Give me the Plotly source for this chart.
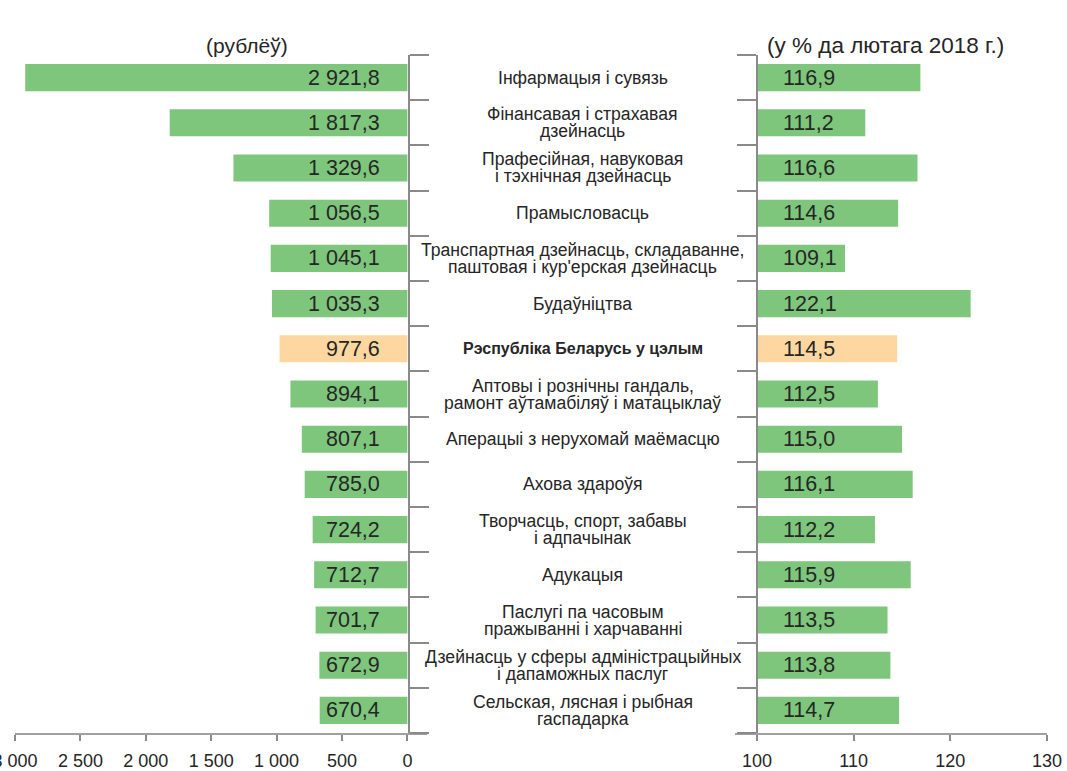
import plotly.graph_objects as go

categories = [
    "Інфармацыя і сувязь",
    "Фінансавая і страхавая<br>дзейнасць",
    "Прафесійная, навуковая<br>і тэхнічная дзейнасць",
    "Прамысловасць",
    "Транспартная дзейнасць, складаванне,<br>паштовая і кур'ерская дзейнасць",
    "Будаўніцтва",
    "Рэспубліка Беларусь у цэлым",
    "Аптовы і рознічны гандаль,<br>рамонт аўтамабіляў і матацыклаў",
    "Аперацыі з нерухомай маёмасцю",
    "Ахова здароўя",
    "Творчасць, спорт, забавы<br>і адпачынак",
    "Адукацыя",
    "Паслугі па часовым<br>пражыванні і харчаванні",
    "Дзейнасць у сферы адміністрацыйных<br>і дапаможных паслуг",
    "Сельская, лясная і рыбная<br>гаспадарка",
]
wage_rub = [2921.8, 1817.3, 1329.6, 1056.5, 1045.1, 1035.3, 977.6, 894.1,
            807.1, 785.0, 724.2, 712.7, 701.7, 672.9, 670.4]
wage_pct = [116.9, 111.2, 116.6, 114.6, 109.1, 122.1, 114.5, 112.5,
            115.0, 116.1, 112.2, 115.9, 113.5, 113.8, 114.7]
highlight = "Рэспубліка Беларусь у цэлым"
left_ticks = [0, 500, 1000, 1500, 2000, 2500, 3000]
left_ticktext = ["0", "500", "1 000", "1 500", "2 000", "2 500", "3 000"]
right_ticks = [100, 110, 120, 130]
left_title = "(рублёў)"
right_title = "(у % да лютага 2018 г.)"

W, H = 1067, 771
GREEN = "#7dc67c"
ORANGE = "#fdd79f"
TXT = "#262626"
AX = "#8a8a8a"
FONT = "Liberation Sans, Arial, sans-serif"


def fx(px):
    return px / W


def fy(py):
    return 1 - py / H


def fmt(v):
    s = f"{v:,.1f}"
    return s.replace(",", " ").replace(".", ",")


ids = list(range(len(categories)))
colors = [ORANGE if c == highlight else GREEN for c in categories]

fig = go.Figure()
fig.add_trace(go.Bar(
    y=ids, x=wage_rub, orientation="h", marker=dict(color=colors, line=dict(width=0)),
    width=0.6, xaxis="x", yaxis="y", hoverinfo="x",
))
fig.add_trace(go.Bar(
    y=ids, x=[v - 100 for v in wage_pct], base=[100] * len(wage_pct), orientation="h",
    marker=dict(color=colors, line=dict(width=0)),
    width=0.6, xaxis="x2", yaxis="y2", hoverinfo="text",
    hovertext=[fmt(v) for v in wage_pct],
))

y_dom = [fy(733), fy(55)]
yax_common = dict(
    domain=y_dom, range=[len(categories) - 0.5, -0.5], showticklabels=False,
    showgrid=False, zeroline=False, showline=True, linecolor=AX, linewidth=2,
    ticks="outside", ticklen=19, tickcolor=AX, tickwidth=1.5, automargin=False,
    tickvals=[i - 0.5 for i in range(len(categories) + 1)], anchor="free",
)
xax_common = dict(
    showgrid=False, zeroline=False, showline=True, linecolor="#a0a0a0", linewidth=2,
    ticks="outside", ticklen=6, tickcolor=AX, tickwidth=1.5, automargin=False,
    ticklabeloverflow="allow", ticklabelstandoff=4,
    tickfont=dict(size=18, color=TXT, family=FONT),
)

annotations = []
for i, (c, v, p) in enumerate(zip(categories, wage_rub, wage_pct)):
    lines = c.split("<br>")
    n = len(lines)
    for k, line in enumerate(lines):
        shift = (k - (n - 1) / 2) * 17
        bold = c == highlight
        txt = f"<b>{line}</b>" if bold else line
        annotations.append(dict(
            x=fx(583), xref="paper", y=i, yref="y", yshift=-shift,
            text=txt, showarrow=False, xanchor="center", yanchor="middle",
            font=dict(size=16 if bold else 17.6, color=TXT, family=FONT),
        ))
    annotations.append(dict(
        x=0, xref="x", y=i, yref="y", xshift=-25, text=fmt(v), showarrow=False,
        xanchor="right", yanchor="middle", font=dict(size=21.5, color=TXT, family=FONT),
    ))
    annotations.append(dict(
        x=100, xref="x2", y=i, yref="y2", xshift=24, text=fmt(p), showarrow=False,
        xanchor="left", yanchor="middle", font=dict(size=21.5, color=TXT, family=FONT),
    ))

annotations.append(dict(
    x=fx(247), y=fy(45), xref="paper", yref="paper", text=left_title, showarrow=False,
    xanchor="center", yanchor="middle", font=dict(size=21, color=TXT, family=FONT),
))
annotations.append(dict(
    x=fx(885), y=fy(45), xref="paper", yref="paper", text=right_title, showarrow=False,
    xanchor="center", yanchor="middle", font=dict(size=22.5, color=TXT, family=FONT),
))

fig.update_layout(
    width=W, height=H, margin=dict(l=0, r=0, t=0, b=0, autoexpand=False),
    paper_bgcolor="white", plot_bgcolor="white", showlegend=False,
    bargap=0.4,
    xaxis=dict(domain=[fx(15), fx(427)], range=[3000, -150], anchor="y",
               tickvals=left_ticks, ticktext=left_ticktext, **xax_common),
    yaxis=dict(position=fx(409), side="right", **yax_common),
    xaxis2=dict(domain=[fx(735), fx(1047)], range=[97.72, 130], anchor="y2",
                tickvals=right_ticks, **xax_common),
    yaxis2=dict(position=fx(757), side="left", **yax_common),
    annotations=annotations,
)

fig.write_html(
    "out.html",
    config={"displayModeBar": False},
    post_script=(
        "document.documentElement.style.margin='0';document.body.style.margin='0';"
        "document.documentElement.style.overflow='hidden';document.body.style.overflow='hidden';"
    ),
)
